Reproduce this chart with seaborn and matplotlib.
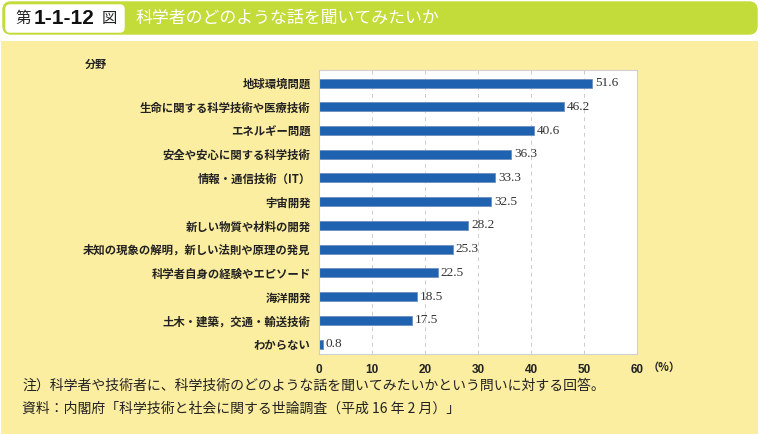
import matplotlib
matplotlib.use("Agg")
import matplotlib.pyplot as plt
import seaborn as sns
import pandas as pd
from matplotlib.patches import FancyBboxPatch, Rectangle

# Datos del gráfico
categorias = [
    "地球環境問題",
    "生命に関する科学技術や医療技術",
    "エネルギー問題",
    "安全や安心に関する科学技術",
    "情報・通信技術（IT）",
    "宇宙開発",
    "新しい物質や材料の開発",
    "未知の現象の解明，新しい法則や原理の発見",
    "科学者自身の経験やエピソード",
    "海洋開発",
    "土木・建築，交通・輸送技術",
    "わからない",
]
valores = [51.6, 46.2, 40.6, 36.3, 33.3, 32.5, 28.2, 25.3, 22.5, 18.5, 17.5, 0.8]
ticks_x = [0, 10, 20, 30, 40, 50, 60]

titulo = "科学者のどのような話を聞いてみたいか"
nota = "注）科学者や技術者に、科学技術のどのような話を聞いてみたいかという問いに対する回答。"
fuente = "資料：内閣府「科学技術と社会に関する世論調査（平成 16 年 2 月）」"

df = pd.DataFrame({"categoria": categorias, "valor": valores})

sns.set_theme(style="white")
plt.rcParams["font.family"] = ["Noto Sans CJK JP", "DejaVu Sans"]

W, H = 760, 434
fig = plt.figure(figsize=(W / 100, H / 100), dpi=100)
fig.patch.set_facecolor("white")

# Capa de fondo en coordenadas de pixel
bg = fig.add_axes([0, 0, 1, 1])
bg.set_xlim(0, W)
bg.set_ylim(H, 0)
bg.axis("off")

verde = "#C3DC3A"
amarillo = "#FCEEA0"
bg.add_patch(FancyBboxPatch((3, 2), 754, 32, boxstyle="round,pad=0,rounding_size=8",
                            facecolor=verde, edgecolor=verde))
bg.add_patch(FancyBboxPatch((6, 5), 118, 27, boxstyle="round,pad=0,rounding_size=4",
                            facecolor="white", edgecolor="white"))
bg.add_patch(Rectangle((1, 41), 757, 393, facecolor=amarillo, edgecolor="none"))

bg.text(15, 19, "第", fontsize=11, color="#222222", va="center", ha="left")
bg.text(34, 19, "1-1-12", fontsize=15, fontweight="bold", color="#111111", va="center", ha="left",
        family=["Liberation Sans", "DejaVu Sans"])
bg.text(102, 19, "図", fontsize=11, color="#222222", va="center", ha="left")
bg.text(135, 18, titulo, fontsize=12.2, color="white", va="center", ha="left")

bg.text(85, 64, "分野", fontsize=8, fontweight="bold", color="#222222", va="center", ha="left")
bg.text(22, 386, nota, fontsize=10, color="#222222", va="center", ha="left")
bg.text(22, 409, fuente, fontsize=10, color="#222222", va="center", ha="left")
bg.text(648, 367, "（%）", fontsize=8, fontweight="bold", color="#222222", va="center", ha="left")

# Eje principal
ax = fig.add_axes([319 / W, (H - 354) / H, 318 / W, 284 / H])
ax.set_facecolor("white")
sns.barplot(data=df, x="valor", y="categoria", color="#1F63B0", width=0.38,
            saturation=1, edgecolor="#6E8FC0", linewidth=0.6, ax=ax)

ax.set_xlim(0, 60)
ax.set_ylim(11.42, -0.55)
ax.set_xticks(ticks_x)
ax.set_xticklabels([str(t) for t in ticks_x], fontsize=8.5, fontweight="bold", color="#222222",
                   family=["Liberation Sans", "DejaVu Sans"])
ax.set_yticks(range(len(categorias)))
ax.set_yticklabels(categorias, fontsize=8.2, fontweight="bold", color="#222222")
ax.tick_params(axis="x", length=0, pad=7)
ax.tick_params(axis="y", length=0, pad=6)
ax.set_xlabel("")
ax.set_ylabel("")

for t in ticks_x[1:-1]:
    ax.axvline(t, color="#CCCCCC", linestyle=(0, (4, 4)), linewidth=0.7, zorder=0)

for s in ax.spines.values():
    s.set_color("#D0D0D0")
    s.set_linewidth(0.8)

for i, v in enumerate(valores):
    ax.text(v + 0.5, i, f"{v:.1f}", va="center", ha="left", fontsize=9.5, color="#333333",
            family=["Liberation Serif", "DejaVu Serif"])

fig.savefig("out.png", dpi=100, facecolor=fig.get_facecolor())
